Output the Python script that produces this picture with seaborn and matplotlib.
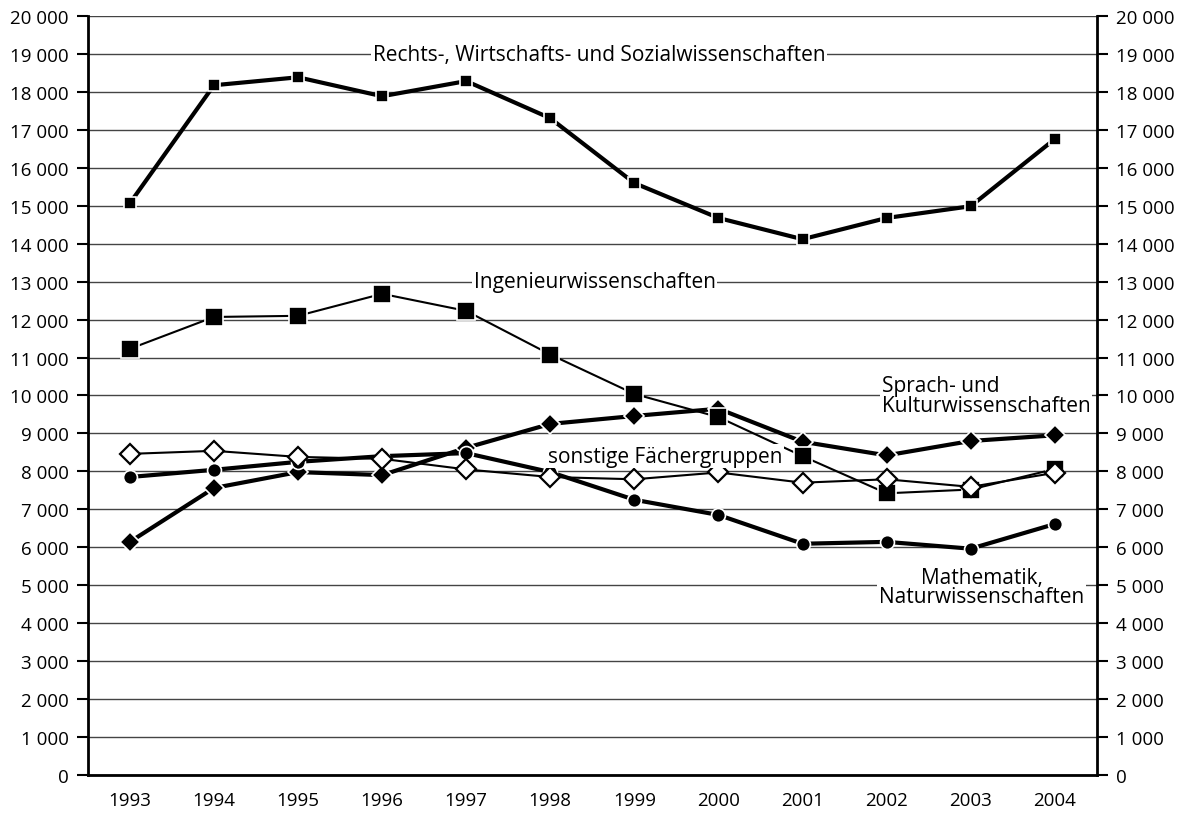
import numpy as np
import pandas as pd
import matplotlib
matplotlib.use('Agg')
import matplotlib.pyplot as plt
import seaborn as sns
from matplotlib.ticker import FuncFormatter, FixedLocator

# Data
years = ['1993', '1994', '1995', '1996', '1997', '1998', '1999', '2000', '2001', '2002', '2003', '2004']
rechts = [15070, 18180, 18390, 17890, 18290, 17310, 15600, 14680, 14120, 14680, 14990, 16760]
ingenieur = [11230, 12070, 12100, 12680, 12230, 11080, 10040, 9430, 8400, 7420, 7520, 8060]
sprach = [6140, 7560, 7980, 7900, 8620, 9250, 9460, 9650, 8780, 8420, 8800, 8950]
mathe = [7850, 8040, 8250, 8400, 8480, 7980, 7250, 6850, 6090, 6140, 5960, 6610]
sonstige = [8460, 8540, 8380, 8330, 8050, 7850, 7790, 7970, 7700, 7790, 7590, 7960]

sns.set_style('white')
plt.rcParams['font.family'] = ['Open Sans', 'DejaVu Sans']
plt.rcParams['text.color'] = 'black'
plt.rcParams['xtick.color'] = 'black'
plt.rcParams['ytick.color'] = 'black'

fig, ax = plt.subplots(figsize=(11.87, 8.2), dpi=100)
fig.subplots_adjust(left=0.074, right=0.924, top=0.979, bottom=0.054)

x = np.arange(len(years))

# (values, marker, size, linewidth, face, zorder)
series = [
    (sprach, 'D', 10, 3.0, 'black', 3),
    (mathe, 'o', 10, 3.0, 'black', 4),
    (ingenieur, 's', 13, 1.5, 'black', 5),
    (rechts, 's', 9, 3.0, 'black', 5),
    (sonstige, 'D', 10, 1.5, 'white', 6),
]
for vals, mk, ms, lw, fc, z in series:
    sns.lineplot(x=x, y=vals, ax=ax, color='black', linewidth=lw, marker=mk,
                 markersize=ms, markerfacecolor=fc,
                 markeredgecolor='white' if fc == 'black' else 'black',
                 markeredgewidth=1.2 if fc == 'black' else 1.6, zorder=z)

ax.set_xlim(-0.5, len(years) - 0.5)
ax.set_ylim(0, 20000)
ax.set_yticks(np.arange(0, 20001, 1000))
fmt = FuncFormatter(lambda v, p: f'{int(v):,}'.replace(',', ' '))
ax.yaxis.set_major_formatter(fmt)
ax.grid(axis='y', color='#444444', linewidth=1.0, zorder=0)
ax.set_axisbelow(True)

ax.xaxis.set_major_locator(FixedLocator(np.arange(-0.5, len(years), 1)))
ax.xaxis.set_major_formatter(FuncFormatter(lambda v, p: ''))
ax.xaxis.set_minor_locator(FixedLocator(x))
ax.set_xticklabels(years, minor=True)
ax.tick_params(axis='x', which='minor', length=0, labelsize=13.5, pad=12)
ax.tick_params(axis='x', which='major', length=8, width=1.5, direction='inout')
ax.tick_params(axis='y', length=8, width=1.5, labelsize=13.5, direction='out',
               left=True, right=True, labelleft=True, labelright=True, pad=6)

for s in ['left', 'right', 'bottom']:
    ax.spines[s].set_linewidth(2)
    ax.spines[s].set_color('black')
ax.spines['top'].set_visible(False)
ax.set_xlabel('')
ax.set_ylabel('')

box = dict(facecolor='white', edgecolor='none', pad=1)
fs = 15
ax.text(5.58, 19000, 'Rechts-, Wirtschafts- und Sozialwissenschaften', ha='center', va='center',
        fontsize=fs, bbox=box, zorder=7)
ax.text(5.53, 13000, 'Ingenieurwissenschaften', ha='center', va='center',
        fontsize=fs, bbox=box, zorder=7)
ax.text(8.94, 10000, 'Sprach- und\nKulturwissenschaften', ha='left', va='center',
        fontsize=fs, bbox=box, zorder=7, linespacing=0.9)
ax.text(4.97, 8400, 'sonstige Fächergruppen', ha='left', va='center',
        fontsize=fs, bbox=box, zorder=7)
ax.text(11.35, 4950, 'Mathematik,\nNaturwissenschaften', ha='right', va='center',
        fontsize=fs, bbox=box, zorder=7, linespacing=0.9, multialignment='center')

fig.savefig('out.png', dpi=100)
